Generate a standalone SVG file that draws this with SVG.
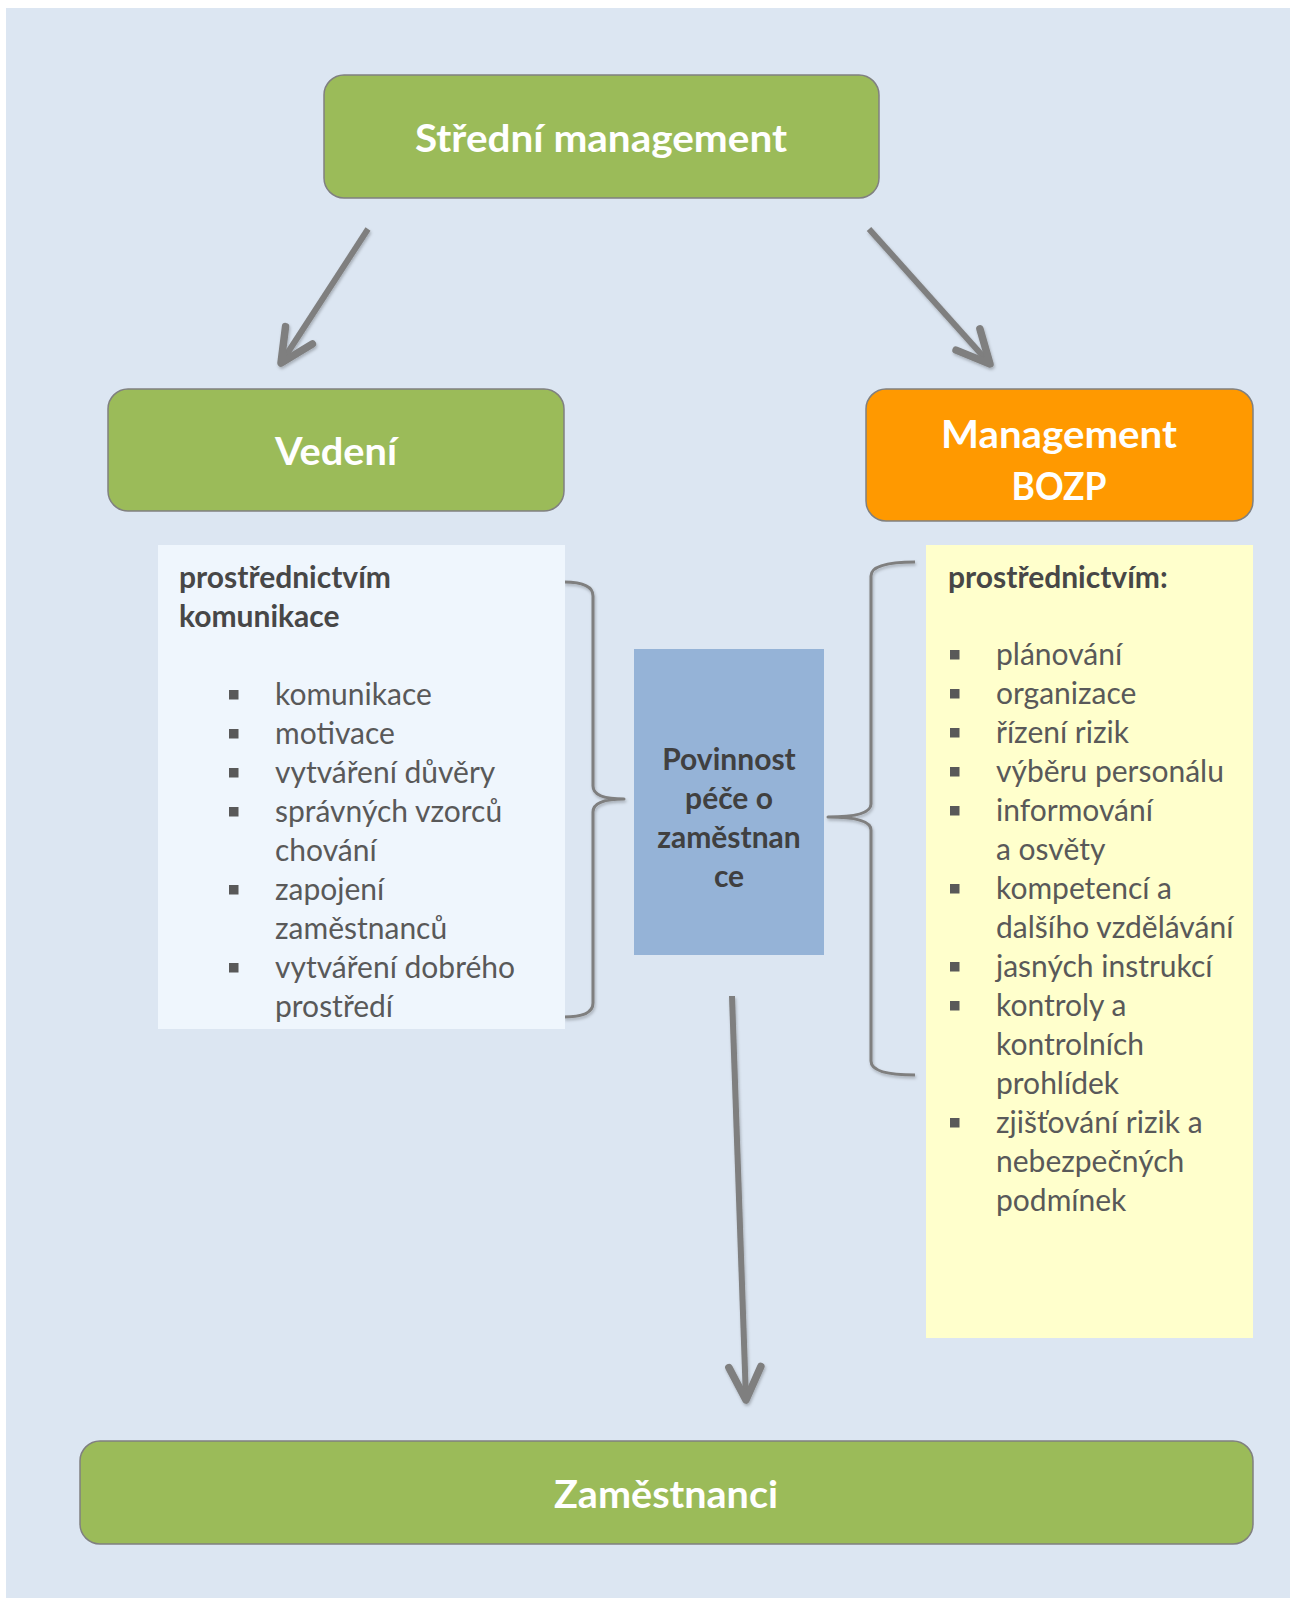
<svg xmlns="http://www.w3.org/2000/svg" width="1290" height="1598" viewBox="0 0 1290 1598">
  <defs>
    <style>
      .title { font-family: Lato, "Open Sans", sans-serif; font-weight: 700; font-size: 38px; fill: #FFFFFF; text-anchor: middle; }
      .head { font-family: Lato, "Open Sans", sans-serif; font-weight: 700; font-size: 30px; fill: #474747; }
      .item { font-family: Lato, "Open Sans", sans-serif; font-weight: 400; font-size: 30px; fill: #595959; }
      .duty { font-family: Lato, "Open Sans", sans-serif; font-weight: 700; font-size: 30px; fill: #404040; text-anchor: middle; }
      .green { fill: #9BBB59; stroke: #808080; stroke-width: 1.5; }
      .orange { fill: #FF9900; stroke: #808080; stroke-width: 1.5; }
      .bullet { fill: #595959; }
      .link { fill: none; stroke: #7F7F7F; stroke-width: 6; }
      .brace { fill: none; stroke: #7F7F7F; stroke-width: 3; stroke-linejoin: round; }
    </style>
    <filter id="soft" x="-20%" y="-20%" width="140%" height="140%">
      <feDropShadow dx="1" dy="2" stdDeviation="1.5" flood-color="#000000" flood-opacity="0.25"/>
    </filter>
    <marker id="openHead" markerUnits="userSpaceOnUse" markerWidth="60" markerHeight="60" viewBox="-45 -30 60 60" refX="0" refY="0" orient="auto">
      <path d="M-33,-16 L0,0 L-33,16" fill="none" stroke="#7F7F7F" stroke-width="7.5" stroke-linecap="round" stroke-linejoin="round"/>
    </marker>
  </defs>

  <!-- page background -->
  <rect x="0" y="0" width="1290" height="1598" fill="#FFFFFF"/>
  <rect x="6" y="8" width="1284" height="1590" fill="#DCE6F2"/>

  <!-- connectors -->
  <g id="connectors" filter="url(#soft)">
    <path class="link" d="M368,229 L281,363" marker-end="url(#openHead)"/>
    <path class="link" d="M869,229 L990,364" marker-end="url(#openHead)"/>
    <path class="link" d="M732,996 L746,1400" marker-end="url(#openHead)"/>
    <path class="brace" d="M564,582 Q593,582 593,596 L593,786 Q593,799 624,799 Q593,799 593,812 L593,1003 Q593,1017 564,1017"/>
    <path class="brace" d="M915,562 Q871,562 871,576 L871,804 Q871,817 828,817 Q871,817 871,830 L871,1061 Q871,1075 915,1075"/>
  </g>

  <!-- top node -->
  <g id="stredni-management">
    <rect class="green" x="324" y="75" width="555" height="123" rx="20" ry="20"/>
    <text class="title" x="601" y="152" textLength="372" lengthAdjust="spacingAndGlyphs">Střední management</text>
  </g>

  <!-- leadership node -->
  <g id="vedeni">
    <rect class="green" x="108" y="389" width="456" height="122" rx="20" ry="20"/>
    <text class="title" x="336" y="465" textLength="122" lengthAdjust="spacingAndGlyphs">Vedení</text>
  </g>

  <!-- OSH management node -->
  <g id="management-bozp">
    <rect class="orange" x="866" y="389" width="387" height="132" rx="20" ry="20"/>
    <text class="title" x="1059" y="447.5" textLength="236" lengthAdjust="spacingAndGlyphs">Management</text>
    <text class="title" x="1059" y="500" textLength="95" lengthAdjust="spacingAndGlyphs">BOZP</text>
  </g>

  <!-- leadership list -->
  <g id="vedeni-seznam">
    <rect x="158" y="545" width="407" height="484" fill="#EFF6FD"/>
    <text class="head" x="179" y="588">prostřednictvím</text>
    <text class="head" x="179" y="627">komunikace</text>
    <rect class="bullet" x="229" y="690" width="9.5" height="9.5"/>
    <rect class="bullet" x="229" y="729" width="9.5" height="9.5"/>
    <rect class="bullet" x="229" y="768" width="9.5" height="9.5"/>
    <rect class="bullet" x="229" y="807" width="9.5" height="9.5"/>
    <rect class="bullet" x="229" y="885" width="9.5" height="9.5"/>
    <rect class="bullet" x="229" y="963" width="9.5" height="9.5"/>
    <text class="item" x="275" y="705">komunikace</text>
    <text class="item" x="275" y="744">motivace</text>
    <text class="item" x="275" y="783">vytváření důvěry</text>
    <text class="item" x="275" y="822">správných vzorců</text>
    <text class="item" x="275" y="861">chování</text>
    <text class="item" x="275" y="900">zapojení</text>
    <text class="item" x="275" y="939">zaměstnanců</text>
    <text class="item" x="275" y="978">vytváření dobrého</text>
    <text class="item" x="275" y="1017">prostředí</text>
  </g>

  <!-- duty of care node -->
  <g id="povinnost-pece">
    <rect x="634" y="649" width="190" height="306" fill="#95B3D7"/>
    <text class="duty" x="729" y="770">Povinnost</text>
    <text class="duty" x="729" y="809">péče o</text>
    <text class="duty" x="729" y="848">zaměstnan</text>
    <text class="duty" x="729" y="887">ce</text>
  </g>

  <!-- OSH management list -->
  <g id="bozp-seznam">
    <rect x="926" y="545" width="327" height="793" fill="#FFFFCC"/>
    <text class="head" x="948" y="588">prostřednictvím:</text>
    <rect class="bullet" x="950" y="650" width="9.5" height="9.5"/>
    <rect class="bullet" x="950" y="689" width="9.5" height="9.5"/>
    <rect class="bullet" x="950" y="728" width="9.5" height="9.5"/>
    <rect class="bullet" x="950" y="767" width="9.5" height="9.5"/>
    <rect class="bullet" x="950" y="806" width="9.5" height="9.5"/>
    <rect class="bullet" x="950" y="884" width="9.5" height="9.5"/>
    <rect class="bullet" x="950" y="962" width="9.5" height="9.5"/>
    <rect class="bullet" x="950" y="1001" width="9.5" height="9.5"/>
    <rect class="bullet" x="950" y="1118" width="9.5" height="9.5"/>
    <text class="item" x="996" y="665">plánování</text>
    <text class="item" x="996" y="704">organizace</text>
    <text class="item" x="996" y="743">řízení rizik</text>
    <text class="item" x="996" y="782">výběru personálu</text>
    <text class="item" x="996" y="821">informování</text>
    <text class="item" x="996" y="860">a osvěty</text>
    <text class="item" x="996" y="899">kompetencí a</text>
    <text class="item" x="996" y="938">dalšího vzdělávání</text>
    <text class="item" x="996" y="977">jasných instrukcí</text>
    <text class="item" x="996" y="1016">kontroly a</text>
    <text class="item" x="996" y="1055">kontrolních</text>
    <text class="item" x="996" y="1094">prohlídek</text>
    <text class="item" x="996" y="1133">zjišťování rizik a</text>
    <text class="item" x="996" y="1172">nebezpečných</text>
    <text class="item" x="996" y="1211">podmínek</text>
  </g>

  <!-- employees node -->
  <g id="zamestnanci">
    <rect class="green" x="80" y="1441" width="1173" height="103" rx="20" ry="20"/>
    <text class="title" x="666" y="1508" textLength="224" lengthAdjust="spacingAndGlyphs">Zaměstnanci</text>
  </g>
</svg>
